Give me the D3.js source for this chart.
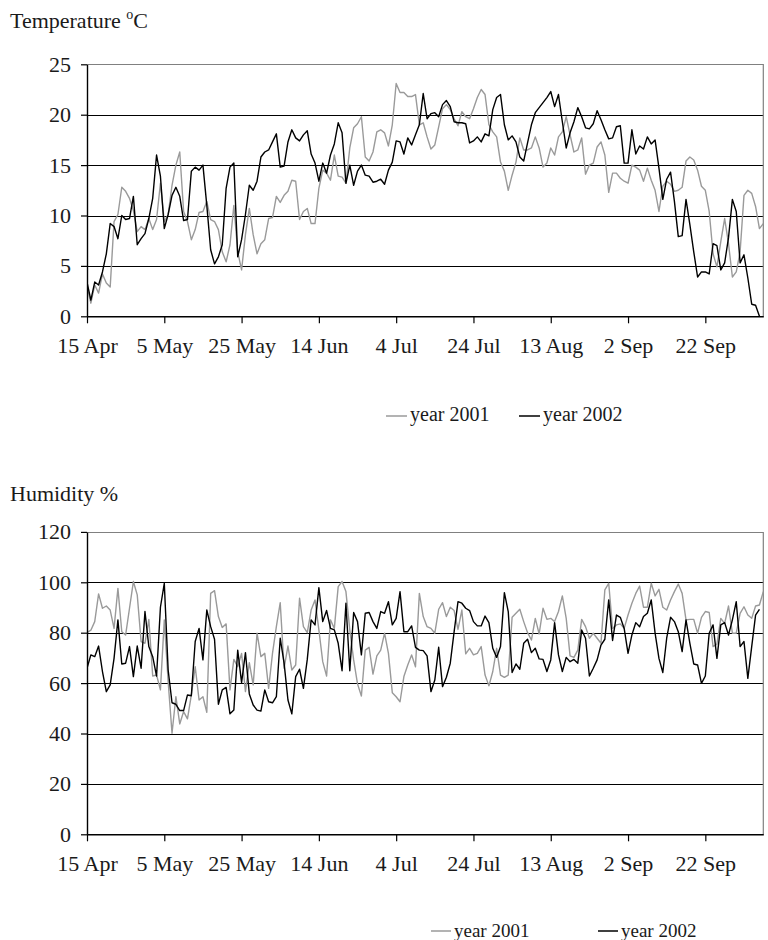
<!DOCTYPE html>
<html><head><meta charset="utf-8">
<script src="https://cdn.jsdelivr.net/npm/d3@7"></script>
<style>
html,body{margin:0;padding:0;background:#fff;}
svg{display:block;}
text{font-family:"Liberation Serif","Times New Roman",serif;fill:#1a1a1a;}
</style></head>
<body>
<svg id="chart" width="768" height="940"></svg>
<script>
// ---- data ----
const dateLabels = ["15 Apr","5 May","25 May","14 Jun","4 Jul","24 Jul","13 Aug","2 Sep","22 Sep"];
const labelStep = 20;
const dayCount = 176;
const tempTicks = [0,5,10,15,20,25];
const humTicks = [0,20,40,60,80,100,120];
const seriesNames = ["year 2001","year 2002"];

const temp2001 = [3.0,1.3,3.1,2.3,4.2,3.3,2.9,9.4,10.1,12.8,12.4,11.7,10.5,8.4,8.9,8.6,9.7,8.6,9.6,13.2,
9.4,10.1,13.0,15.0,16.3,10.4,9.4,7.6,8.6,10.3,10.4,11.4,9.6,9.4,8.6,6.4,5.4,7.1,11.0,6.4,
4.6,8.1,10.7,8.1,6.2,7.2,7.6,9.7,9.8,11.9,11.3,12.0,12.4,13.5,13.4,9.6,10.4,10.7,9.2,9.2,
12.7,14.5,14.2,13.5,16.0,13.9,13.8,13.2,16.7,18.7,19.1,19.8,15.8,15.4,16.3,18.3,18.5,18.2,16.9,19.0,
23.1,22.2,22.2,21.8,21.8,22.0,19.0,19.2,17.8,16.6,17.0,18.8,20.6,21.0,20.5,19.6,18.9,20.3,19.8,19.6,
20.6,21.7,22.5,22.0,19.0,18.3,17.8,15.3,14.4,12.5,14.0,15.3,17.7,16.5,16.5,16.7,17.8,16.7,14.8,15.2,
16.7,16.0,17.8,18.3,19.8,18.0,16.3,16.5,17.7,14.1,15.0,15.2,16.8,17.3,16.0,12.3,14.2,14.2,13.7,13.4,
13.2,15.0,14.8,14.5,13.4,14.7,13.5,12.5,10.4,12.9,13.4,13.1,12.4,12.5,12.8,15.4,15.8,15.5,14.5,12.9,
12.5,10.4,6.2,4.9,7.4,9.7,7.2,3.9,4.4,6.4,12.0,12.5,12.2,10.9,8.7,9.2];

const temp2002 = [3.4,1.6,3.4,3.1,4.4,6.2,9.2,8.9,7.7,10.0,9.6,9.7,11.9,7.1,7.7,8.2,9.7,11.7,16.0,13.9,
8.7,10.1,12.0,12.8,11.9,9.5,9.6,14.4,14.8,14.5,15.0,11.0,6.6,5.2,5.9,7.1,12.7,14.8,15.2,5.9,
7.6,10.1,13.0,12.5,13.4,15.8,16.3,16.5,17.3,18.1,14.8,14.9,17.3,18.5,17.7,17.4,18.0,18.4,16.1,15.2,
13.4,15.2,14.2,16.0,17.1,19.2,18.2,13.2,15.0,13.0,14.4,15.0,14.0,13.9,13.3,13.4,13.6,13.1,14.5,15.3,
17.4,17.3,16.1,17.7,17.0,18.0,19.0,22.1,19.6,20.1,20.2,19.8,21.0,21.4,20.8,19.3,19.2,19.2,19.1,17.2,
17.4,17.8,17.3,18.1,17.9,20.5,21.7,22.0,19.0,17.5,17.9,17.3,15.8,15.4,17.2,19.0,20.2,20.7,21.2,21.7,
22.3,20.8,22.0,19.3,16.7,18.2,19.3,20.7,19.8,18.7,18.6,19.1,20.4,19.5,18.5,17.6,17.7,18.8,18.9,15.2,
15.2,18.5,16.1,16.9,16.6,17.8,17.1,17.5,14.7,11.6,13.6,14.3,11.4,7.9,8.0,11.6,9.1,6.4,3.9,4.4,
4.4,4.2,7.2,7.0,4.6,5.3,7.8,11.6,10.4,5.3,6.1,3.8,1.2,1.1,0.0];

const hum2001 = [80.0,81.0,84.4,95.4,89.7,90.6,89.0,81.7,97.6,80.4,79.1,89.7,100.3,95.0,76.5,75.8,85.3,62.8,63.2,57.3,
85.1,60.6,40.1,54.6,43.8,48.7,45.8,55.3,66.5,53.3,54.6,48.4,95.6,96.7,86.4,82.1,83.5,57.3,69.4,66.5,
71.8,56.6,68.1,59.3,79.8,70.5,71.8,57.9,71.8,82.4,91.9,65.9,74.7,65.2,67.2,93.7,82.4,80.0,89.0,93.0,
81.1,68.5,62.8,85.1,81.7,98.3,100.3,96.3,81.1,69.2,59.7,54.9,73.1,74.2,63.6,70.8,73.1,79.8,71.8,56.2,
54.6,52.6,62.6,67.2,71.2,66.5,95.6,86.4,82.4,81.7,79.8,89.3,91.9,86.4,90.1,88.8,81.3,89.0,71.6,73.8,
71.2,71.8,74.5,63.2,58.9,64.6,73.8,63.2,62.3,63.2,86.1,87.7,89.3,84.4,80.0,77.1,85.7,79.5,89.7,85.3,
85.7,84.4,88.4,94.6,85.7,70.8,70.2,73.1,85.3,82.4,77.8,79.8,77.8,75.8,97.0,99.6,81.7,83.1,83.5,81.7,
87.0,91.7,95.6,98.5,90.1,90.1,99.6,94.6,97.2,90.1,89.0,93.0,96.3,99.3,95.6,85.1,85.3,85.3,79.8,86.1,
88.4,88.0,74.5,75.5,85.7,83.7,90.6,79.8,79.8,87.7,90.3,87.0,85.7,90.6,91.0,96.3];

const hum2002 = [65.9,71.2,70.5,74.7,64.6,56.6,59.3,69.8,85.1,67.6,67.9,74.5,62.6,74.7,65.9,88.4,74.5,70.5,62.8,90.1,
99.6,65.2,52.2,51.6,49.1,49.1,55.3,55.0,76.5,81.7,69.2,89.0,82.4,77.4,51.6,57.3,58.3,47.8,49.3,73.1,
60.2,72.1,55.7,51.3,49.3,48.9,57.3,52.6,52.2,54.6,77.8,67.9,53.3,47.8,62.6,65.5,57.9,69.4,85.1,83.1,
97.9,84.4,88.8,81.7,81.1,75.8,64.9,91.7,64.9,88.0,84.4,71.2,87.7,88.0,84.4,81.7,88.4,87.7,92.3,83.1,
85.7,96.3,80.4,80.4,82.7,74.2,73.1,72.9,70.8,56.6,61.2,74.2,58.6,62.3,67.9,80.4,92.3,91.7,89.7,88.8,
84.4,82.7,82.7,86.6,84.0,73.8,70.2,74.5,95.9,88.4,64.2,67.6,65.5,75.8,77.4,72.1,73.8,69.6,69.4,64.6,
69.2,84.0,71.2,64.6,70.2,68.5,69.4,67.9,81.1,77.8,62.8,65.9,69.2,75.1,77.4,93.0,76.9,87.0,86.1,81.7,
71.8,79.1,84.0,82.4,86.4,87.7,93.0,79.8,69.8,64.2,77.8,86.1,84.4,80.4,72.5,85.1,75.8,67.6,67.2,59.9,
62.8,79.8,83.1,69.8,83.1,84.0,79.1,85.1,92.3,74.5,76.5,61.9,74.5,87.0,89.3];

// ---- drawing ----
const svg = d3.select("#chart");
const X0 = 87, X1 = 763.3;
const FONT = 22;

function panel(cfg) {
  const x = d3.scaleLinear().domain([0, dayCount - 1]).range([X0, X1]);
  const y = d3.scaleLinear().domain([cfg.ticks[0], cfg.ticks[cfg.ticks.length - 1]]).range([cfg.bottom, cfg.top]);
  const g = svg.append("g");

  // title
  const t = g.append("text").attr("x", 10).attr("y", cfg.titleY).attr("font-size", FONT);
  cfg.title(t);

  // clip
  const cid = "clip" + cfg.id;
  svg.append("defs").append("clipPath").attr("id", cid)
    .append("rect").attr("x", X0).attr("y", cfg.top).attr("width", X1 - X0).attr("height", cfg.bottom - cfg.top);

  // gridlines
  g.append("g").selectAll("line").data(cfg.ticks.slice(1, -1)).join("line")
    .attr("x1", X0).attr("x2", X1)
    .attr("y1", d => Math.round(y(d)) + 0.5).attr("y2", d => Math.round(y(d)) + 0.5)
    .attr("stroke", "#000").attr("stroke-width", 1);

  // plot border (top & right)
  g.append("path")
    .attr("d", `M${X0},${Math.round(cfg.top)+0.5}H${X1}V${cfg.bottom}`)
    .attr("fill", "none").attr("stroke", "#808080").attr("stroke-width", 1.2);

  // lines
  const line = d3.line().x((d, i) => x(i)).y(d => y(d));
  const lg = g.append("g").attr("clip-path", `url(#${cid})`);
  lg.append("path").datum(cfg.s1).attr("d", line)
    .attr("fill", "none").attr("stroke", "#9a9a9a").attr("stroke-width", 1.4).attr("stroke-linejoin", "round");
  lg.append("path").datum(cfg.s2).attr("d", line)
    .attr("fill", "none").attr("stroke", "#000").attr("stroke-width", 1.4).attr("stroke-linejoin", "round");

  // y axis
  const ya = g.append("g").attr("transform", `translate(${X0},0)`)
    .call(d3.axisLeft(y).tickValues(cfg.ticks).tickSize(6).tickSizeOuter(0).tickPadding(10));
  ya.select(".domain").attr("stroke", "#000").attr("stroke-width", 1.4);
  ya.selectAll(".tick line").attr("stroke", "#000").attr("stroke-width", 1.2);
  ya.selectAll(".tick text").attr("font-size", FONT).attr("font-family", '"Liberation Serif","Times New Roman",serif').attr("fill", "#1a1a1a");

  // x axis
  const xa = g.append("g").attr("transform", `translate(0,${cfg.bottom})`)
    .call(d3.axisBottom(x).tickValues(dateLabels.map((d, i) => i * labelStep))
      .tickFormat((d, i) => dateLabels[i]).tickSize(7).tickSizeOuter(0).tickPadding(14));
  xa.select(".domain").attr("stroke", "#000").attr("stroke-width", 1.4);
  xa.selectAll(".tick line").attr("stroke", "#000").attr("stroke-width", 1.2);
  xa.selectAll(".tick text").attr("font-size", FONT).attr("font-family", '"Liberation Serif","Times New Roman",serif').attr("fill", "#1a1a1a");

  // legend
  const L = cfg.legend;
  const items = [{c: "#9a9a9a", x: L.x1}, {c: "#000", x: L.x2}];
  items.forEach((it, i) => {
    g.append("line").attr("x1", it.x).attr("x2", it.x + L.len).attr("y1", L.ly).attr("y2", L.ly)
      .attr("stroke", it.c).attr("stroke-width", 1.5);
    g.append("text").attr("x", it.x + L.len + 3).attr("y", L.ty).attr("font-size", L.fs).text(seriesNames[i]);
  });
}

panel({
  id: "t", ticks: tempTicks, top: 64.3, bottom: 316.3, titleY: 28,
  s1: temp2001, s2: temp2002,
  title: t => { t.append("tspan").text("Temperature "); t.append("tspan").attr("font-size", 14).attr("dy", -9).text("o"); t.append("tspan").attr("dy", 9).text("C"); },
  legend: {x1: 386, x2: 519, len: 21, ly: 416, ty: 421, fs: 20}
});
panel({
  id: "h", ticks: humTicks, top: 531.9, bottom: 834.3, titleY: 501,
  s1: hum2001, s2: hum2002,
  title: t => t.text("Humidity %"),
  legend: {x1: 431, x2: 598, len: 20, ly: 931, ty: 937, fs: 19}
});
</script>
</body></html>
